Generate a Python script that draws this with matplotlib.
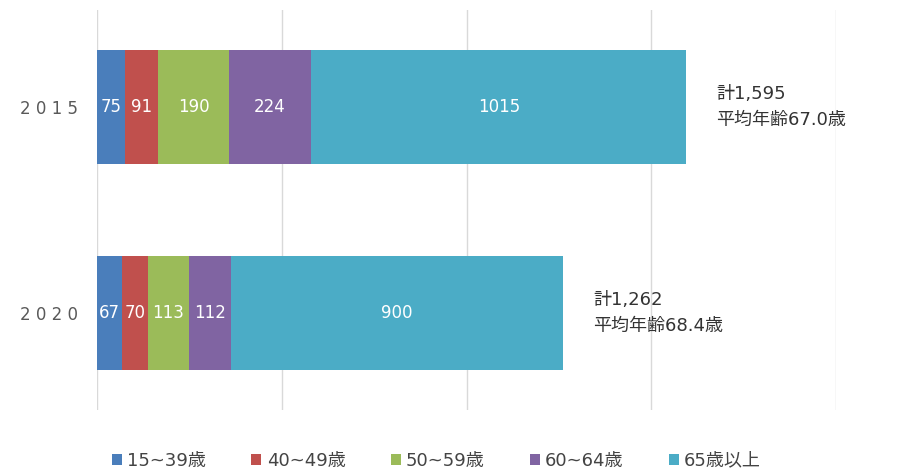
import matplotlib.pyplot as plt

plt.rcParams['font.family'] = ['DejaVu Sans', 'Noto Sans CJK JP']

years = ['2015', '2020']
groups = ['15~39歳', '40~49歳', '50~59歳', '60~64歳', '65歳以上']
values = [
    [75, 67],
    [91, 70],
    [190, 113],
    [224, 112],
    [1015, 900],
]
totals = ['計1,595', '計1,262']
avg_age = ['平均年齢67.0歳', '平均年齢68.4歳']
colors = ['#4a7ebb', '#c0504d', '#9bbb59', '#8064a2', '#4bacc6']

fig = plt.figure(figsize=(9.02, 4.72), dpi=100)
ax = fig.add_axes([97 / 902, 62 / 472, (836 - 97) / 902, 400 / 472])

ypos = [0, 1]
left = [0, 0]
for vals, name, c in zip(values, groups, colors):
    ax.barh(ypos, vals, left=left, height=0.55, color=c, label=name)
    for i in range(2):
        ax.text(left[i] + vals[i] / 2, ypos[i], str(vals[i]), ha='center', va='center',
                color='white', fontsize=12)
    left = [l + v for l, v in zip(left, vals)]

for i in range(2):
    ax.text(left[i] + 80, ypos[i], totals[i] + '\n' + avg_age[i], ha='left', va='center',
            fontsize=13, color='#333333', linespacing=1.55)

ax.set_xlim(0, 2000)
ax.set_ylim(1.47, -0.47)
ax.set_xticks([0, 500, 1000, 1500, 2000])
ax.set_xticklabels([])
ax.set_yticks(ypos)
ax.set_yticklabels([' '.join(y) for y in years], color='#595959', fontsize=12)
ax.tick_params(length=0, pad=14)
ax.grid(axis='x', color='#d9d9d9', linewidth=1)
ax.set_axisbelow(True)
for s in ax.spines.values():
    s.set_visible(False)

ax.legend(loc='lower center', bbox_to_anchor=(0.5 - 30 / 739, -0.19), ncol=5, frameon=False,
          fontsize=13, handlelength=0.55, handleheight=0.55, handletextpad=0.3, columnspacing=2.5,
          labelcolor='#444444')

fig.savefig('out.png', dpi=100)
